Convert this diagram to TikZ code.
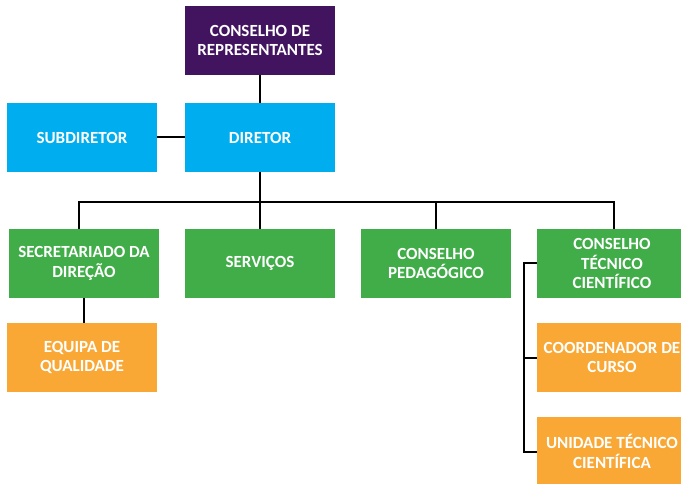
\documentclass[tikz,border=0pt]{standalone}
\usepackage{fontspec}
\setmainfont{Carlito}
\definecolor{cpurple}{HTML}{42135F}
\definecolor{ccyan}{HTML}{00AEEF}
\definecolor{cgreen}{HTML}{40AD48}
\definecolor{corange}{HTML}{F9A836}
\begin{document}
\begin{tikzpicture}[x=1pt,y=1pt,
  box/.style={minimum width=150pt,minimum height=69pt,inner sep=0pt,align=center,
    text=white,font=\fontsize{17}{19.5}\selectfont\bfseries},
  link/.style={draw=black,line width=2pt}]
\useasboundingbox (0,0) rectangle (681,-484);
\node[box,fill=cpurple] (cr) at (260,-40.5) {CONSELHO DE\\REPRESENTANTES};
\node[box,fill=ccyan] (dir) at (260,-137.5) {DIRETOR};
\node[box,fill=ccyan] (sub) at (82,-137.5) {SUBDIRETOR};
\node[box,fill=cgreen] (sec) at (84,-263.5) {SECRETARIADO DA\\DIREÇÃO};
\node[box,fill=cgreen] (serv) at (260,-263.5) {SERVIÇOS};
\node[box,fill=cgreen] (ped) at (436,-263.5) {CONSELHO\\PEDAGÓGICO};
\node[box,fill=cgreen] (ctc) at (612,-263.5) {CONSELHO\\TÉCNICO\\CIENTÍFICO};
\node[box,fill=corange] (eq) at (82,-357.5) {EQUIPA DE\\QUALIDADE};
\node[box,fill=corange] (coord) at (612,-357.5) {COORDENADOR DE\\CURSO};
\node[box,fill=corange] (uni) at (612,-451.5) {UNIDADE TÉCNICO\\CIENTÍFICA};
\coordinate (bus) at (260,-202);
\coordinate (brk) at (524,0);
\draw[link] (cr) -- (dir);
\draw[link] (sub) -- (dir);
\draw[link] (dir.south) -- (bus);
\draw[link] ([xshift=-5pt]sec.north) |- (bus) -| ([xshift=2pt]ctc.north);
\draw[link] (bus) -- (serv.north);
\draw[link] (bus) -| (ped.north);
\draw[link] (sec) -- (sec |- eq.north);
\draw[link] (ctc.west) -| (brk |- uni.west) -- (uni.west);
\draw[link] (coord.west) -- (coord.west -| brk);
\end{tikzpicture}
\end{document}
